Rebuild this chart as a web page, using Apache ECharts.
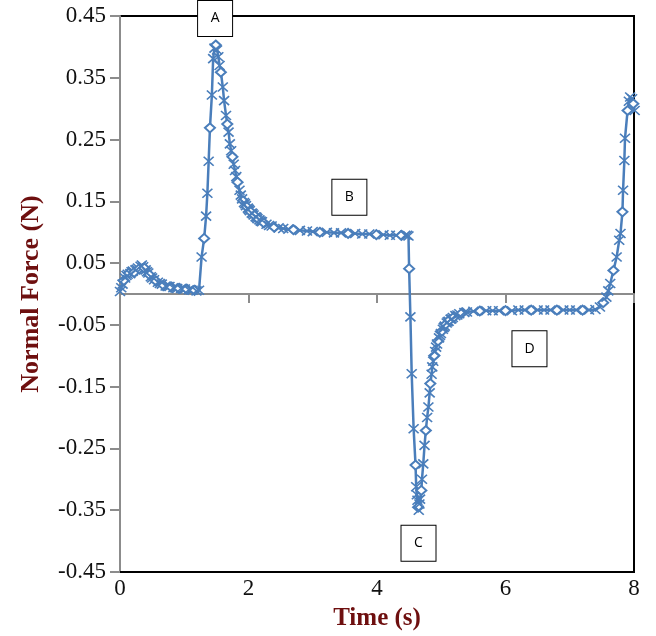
<!DOCTYPE html>
<html>
<head>
<meta charset="utf-8">
<script src="https://cdn.jsdelivr.net/npm/echarts@6/dist/echarts.min.js"></script>
<style>
html,body{margin:0;padding:0;background:#fff;}
#chart{width:656px;height:636px;}
</style>
</head>
<body>
<div id="chart"></div>
<script>
// Time (s)
const timeValues = [
  0.00, 0.02, 0.04, 0.06, 0.08, 0.10, 0.12, 0.14, 0.16, 0.18, 0.20, 0.22, 0.24, 0.26, 0.28, 0.30, 0.32, 0.34, 0.36, 0.38,
  0.40, 0.42, 0.44, 0.46, 0.48, 0.50, 0.53, 0.56, 0.59, 0.62, 0.65, 0.68, 0.71, 0.74, 0.77, 0.80, 0.83, 0.86, 0.89, 0.92,
  0.95, 0.98, 1.01, 1.04, 1.07, 1.10, 1.13, 1.16, 1.19,
  1.23, 1.27, 1.31, 1.34, 1.36, 1.38, 1.40, 1.43, 1.45, 1.47, 1.49,
  1.51, 1.53, 1.55, 1.57, 1.60, 1.62, 1.65, 1.67, 1.69, 1.71, 1.73, 1.75, 1.77, 1.79, 1.81, 1.83,
  1.86, 1.88, 1.90, 1.915, 1.93, 1.945, 1.96, 1.975, 1.99, 2.005, 2.02, 2.035, 2.05, 2.065, 2.08, 2.095, 2.11, 2.125,
  2.14, 2.155, 2.17, 2.19, 2.21, 2.24, 2.28, 2.32, 2.36, 2.40,
  2.47, 2.54, 2.62, 2.70, 2.80, 2.91, 3.00, 3.11, 3.22, 3.33, 3.44, 3.55, 3.66, 3.77, 3.88, 3.99, 4.10, 4.20, 4.30,
  4.38, 4.44, 4.47, 4.49,
  4.50, 4.52, 4.54, 4.57, 4.60, 4.61, 4.62, 4.63, 4.64, 4.65, 4.66, 4.67, 4.69, 4.70, 4.72, 4.74, 4.76, 4.78, 4.80,
  4.82, 4.83, 4.85,
  4.86, 4.875, 4.89, 4.905, 4.92, 4.935, 4.95, 4.965, 4.98, 4.995, 5.01, 5.025, 5.04, 5.055, 5.07, 5.085, 5.10, 5.115,
  5.13, 5.145, 5.16, 5.18, 5.20, 5.22, 5.25, 5.28, 5.32, 5.36, 5.40,
  5.50, 5.60, 5.70, 5.80, 5.90, 6.00, 6.10, 6.20, 6.30, 6.40, 6.50, 6.60, 6.70, 6.80, 6.90,
  7.00, 7.10, 7.20, 7.30, 7.40, 7.47, 7.52, 7.57, 7.60, 7.63, 7.68, 7.73, 7.77, 7.79, 7.82, 7.83, 7.85, 7.86, 7.90,
  7.92, 7.94, 7.97, 7.99, 8.01
];
// Normal Force (N)
const forceValues = [
  0.004, 0.010, 0.016, 0.022, 0.026, 0.030, 0.032, 0.034, 0.033, 0.036, 0.037, 0.035, 0.039, 0.040, 0.042, 0.041, 0.045, 0.047, 0.044, 0.042,
  0.039, 0.036, 0.034, 0.031, 0.028, 0.026, 0.023, 0.021, 0.019, 0.017, 0.016, 0.014, 0.013, 0.012, 0.012, 0.011, 0.010, 0.010, 0.009, 0.009,
  0.009, 0.008, 0.008, 0.008, 0.007, 0.007, 0.006, 0.006, 0.005,
  0.006, 0.060, 0.090, 0.126, 0.163, 0.215, 0.269, 0.322, 0.381, 0.398, 0.403,
  0.395, 0.384, 0.370, 0.359, 0.335, 0.313, 0.289, 0.275, 0.262, 0.243, 0.232, 0.222, 0.210, 0.200, 0.190, 0.181,
  0.168, 0.160, 0.154, 0.151, 0.148, 0.146, 0.143, 0.141, 0.139, 0.137, 0.135, 0.133, 0.131, 0.130, 0.128, 0.127, 0.125, 0.124,
  0.122, 0.121, 0.120, 0.118, 0.117, 0.115, 0.113, 0.111, 0.110, 0.108,
  0.107, 0.106, 0.105, 0.104, 0.103, 0.102, 0.101, 0.100, 0.100, 0.099, 0.099, 0.098, 0.098, 0.097, 0.097, 0.096, 0.096, 0.095, 0.095,
  0.095, 0.095, 0.095, 0.094,
  0.041, -0.037, -0.129, -0.218, -0.277, -0.312, -0.325, -0.334, -0.345, -0.350, -0.340, -0.332, -0.318, -0.300, -0.275, -0.245, -0.221, -0.200, -0.183,
  -0.160, -0.145, -0.130,
  -0.118, -0.109, -0.100, -0.093, -0.086, -0.081, -0.076, -0.071, -0.067, -0.064, -0.060, -0.057, -0.054, -0.052, -0.049, -0.047, -0.045, -0.044,
  -0.042, -0.041, -0.040, -0.038, -0.037, -0.035, -0.034, -0.032, -0.031, -0.030, -0.029,
  -0.028, -0.0275, -0.027, -0.027, -0.027, -0.027, -0.027, -0.026, -0.026, -0.026, -0.026, -0.026, -0.026, -0.026, -0.026,
  -0.026, -0.026, -0.026, -0.026, -0.025, -0.021, -0.014, -0.005, 0.005, 0.017, 0.038, 0.060, 0.087, 0.098, 0.133, 0.168, 0.216, 0.252, 0.297,
  0.312, 0.319, 0.316, 0.308, 0.297
];
// Axis ticks
const xTicks = [0, 2, 4, 6, 8];
const yTickMin = -0.45, yTickMax = 0.45, yTickStep = 0.1;
// Annotation boxes (label, time, force)
const annoLabels = ['A', 'B', 'C', 'D'];
const annoTimes = [1.48, 3.57, 4.646, 6.373];
const annoForces = [0.446, 0.1565, -0.4035, -0.0887];

const blue = '#4a7ebb';
const maroon = '#6e0f0f';
const serif = '"Liberation Serif", "Times New Roman", serif';
const crossPath = 'path://M0,0L10,10M10,0L0,10';

const chart = echarts.init(document.getElementById('chart'));
const data = timeValues.map((t, i) => [t, forceValues[i]]);

chart.setOption({
  animation: false,
  backgroundColor: '#fff',
  grid: {
    left: 120, right: 22, top: 16, bottom: 64,
    show: true, borderColor: '#000', borderWidth: 2, backgroundColor: 'transparent'
  },
  xAxis: [
    {
      type: 'value', position: 'bottom',
      min: xTicks[0], max: xTicks[xTicks.length - 1], interval: xTicks[1] - xTicks[0],
      axisLine: { onZero: false, lineStyle: { color: '#000', width: 2 } },
      axisTick: { show: false },
      splitLine: { show: false },
      axisLabel: { margin: 5, fontFamily: serif, fontSize: 23, color: '#111' },
      name: 'Time (s)', nameLocation: 'middle', nameGap: 34,
      nameTextStyle: { fontFamily: serif, fontWeight: 'bold', fontSize: 25, color: maroon }
    },
    {
      type: 'value', position: 'top',
      min: xTicks[0], max: xTicks[xTicks.length - 1], interval: xTicks[1] - xTicks[0],
      axisLine: { onZero: true, lineStyle: { color: '#8c8c8c', width: 2 } },
      axisTick: { show: true, inside: true, length: 9, lineStyle: { color: '#8c8c8c', width: 2 } },
      splitLine: { show: false },
      axisLabel: { show: false }
    }
  ],
  yAxis: {
    type: 'value',
    min: yTickMin, max: yTickMax, interval: yTickStep,
    axisLine: { onZero: false, lineStyle: { color: '#8c8c8c', width: 2 } },
    axisTick: { show: true, length: 10, lineStyle: { color: '#8c8c8c', width: 2 } },
    splitLine: { show: false },
    axisLabel: {
      margin: 14, fontFamily: serif, fontSize: 23, color: '#111',
      formatter: v => v.toFixed(2)
    },
    name: 'Normal Force (N)', nameLocation: 'middle', nameGap: 76,
    nameTextStyle: { fontFamily: serif, fontWeight: 'bold', fontSize: 26, color: maroon }
  },
  series: [
    {
      type: 'line',
      xAxisIndex: 0,
      data: data,
      showSymbol: true,
      showAllSymbol: true,
      symbol: (value, params) => (params.dataIndex % 4 === 3 ? 'emptyDiamond' : crossPath),
      symbolSize: [10, 9],
      lineStyle: { color: blue, width: 2.5 },
      itemStyle: { color: blue, borderColor: blue, borderWidth: 1.6 },
      clip: false,
      markPoint: {
        symbol: 'rect',
        symbolSize: [35, 36],
        itemStyle: { color: '#fff', borderColor: '#000', borderWidth: 1 },
        label: {
          show: true, position: 'inside', color: '#000',
          fontFamily: '"Open Sans", "Liberation Sans", sans-serif', fontSize: 14,
          formatter: p => p.name
        },
        data: annoLabels.map((l, i) => ({ name: l, coord: [annoTimes[i], annoForces[i]] }))
      }
    }
  ]
});
</script>
</body>
</html>
